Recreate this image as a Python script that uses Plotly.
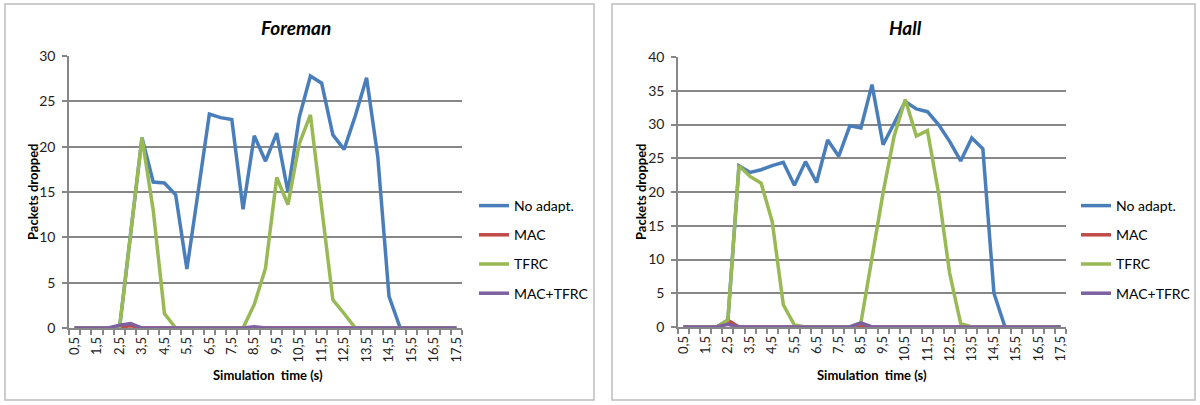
import plotly.graph_objects as go

# Categories: simulation time every 0.5 s
times = [0.5, 1.0, 1.5, 2.0, 2.5, 3.0, 3.5, 4.0, 4.5, 5.0, 5.5, 6.0, 6.5, 7.0, 7.5,
         8.0, 8.5, 9.0, 9.5, 10.0, 10.5, 11.0, 11.5, 12.0, 12.5, 13.0, 13.5, 14.0,
         14.5, 15.0, 15.5, 16.0, 16.5, 17.0, 17.5]
tick_vals = [0.5, 1.5, 2.5, 3.5, 4.5, 5.5, 6.5, 7.5, 8.5, 9.5, 10.5, 11.5, 12.5,
             13.5, 14.5, 15.5, 16.5, 17.5]
tick_text = ["0,5", "1,5", "2,5", "3,5", "4,5", "5,5", "6,5", "7,5", "8,5", "9,5",
             "10,5", "11,5", "12,5", "13,5", "14,5", "15,5", "16,5", "17,5"]
minor_vals = [0.25, 0.75, 1.25, 1.75, 2.25, 2.75, 3.25, 3.75, 4.25, 4.75, 5.25, 5.75,
              6.25, 6.75, 7.25, 7.75, 8.25, 8.75, 9.25, 9.75, 10.25, 10.75, 11.25,
              11.75, 12.25, 12.75, 13.25, 13.75, 14.25, 14.75, 15.25, 15.75, 16.25,
              16.75, 17.25, 17.75]

series_names = ["No adapt.", "MAC", "TFRC", "MAC+TFRC"]
colors = ["#4A7EBB", "#BE4B48", "#98B954", "#7D60A0"]

# Foreman
foreman_noadapt = [0, 0, 0, 0, 0, 10.5, 21.0, 16.1, 16.0, 14.7, 6.5, 15.0, 23.6, 23.2,
                   23.0, 13.1, 21.2, 18.4, 21.5, 15.0, 23.2, 27.8, 27.0, 21.3, 19.7,
                   23.4, 27.6, 18.9, 3.5, 0, 0, 0, 0, 0, 0]
foreman_mac = [0, 0, 0, 0, 0.1, 0.25, 0, 0, 0, 0, 0, 0, 0, 0, 0, 0, 0.05, 0, 0, 0, 0,
               0, 0, 0, 0, 0, 0, 0, 0, 0, 0, 0, 0, 0, 0]
foreman_tfrc = [0, 0, 0, 0, 0, 10.5, 21.0, 13.0, 1.6, 0, 0, 0, 0, 0, 0, 0, 2.6, 6.6,
                16.6, 13.6, 20.3, 23.5, 13.3, 3.1, 1.6, 0, 0, 0, 0, 0, 0, 0, 0, 0, 0]
foreman_mactfrc = [0, 0, 0, 0, 0.3, 0.5, 0, 0, 0, 0, 0, 0, 0, 0, 0, 0, 0.15, 0, 0, 0,
                   0, 0, 0, 0, 0, 0, 0, 0, 0, 0, 0, 0, 0, 0, 0]

# Hall
hall_noadapt = [0, 0, 0, 0, 1.0, 23.9, 22.9, 23.3, 23.9, 24.4, 21.0, 24.5, 21.4, 27.7,
                25.3, 29.8, 29.5, 35.9, 27.0, 30.2, 33.4, 32.3, 31.9, 30.0, 27.5, 24.6,
                28.0, 26.4, 5.0, 0, 0, 0, 0, 0, 0]
hall_mac = [0, 0, 0, 0, 1.0, 0, 0, 0, 0, 0, 0, 0, 0, 0, 0, 0, 0.3, 0, 0, 0, 0, 0, 0, 0,
            0, 0, 0, 0, 0, 0, 0, 0, 0, 0, 0]
hall_tfrc = [0, 0, 0, 0, 1.0, 23.9, 22.3, 21.3, 15.6, 3.3, 0.3, 0, 0, 0, 0, 0, 0.6,
             10.2, 19.9, 28.3, 33.7, 28.3, 29.1, 19.9, 8.0, 0.5, 0, 0, 0, 0, 0, 0, 0,
             0, 0]
hall_mactfrc = [0, 0, 0, 0, 0.4, 0, 0, 0, 0, 0, 0, 0, 0, 0, 0, 0, 0.6, 0, 0, 0, 0, 0,
                0, 0, 0, 0, 0, 0, 0, 0, 0, 0, 0, 0, 0]

panels = [
    ("Foreman", [foreman_noadapt, foreman_mac, foreman_tfrc, foreman_mactfrc], 30),
    ("Hall", [hall_noadapt, hall_mac, hall_tfrc, hall_mactfrc], 40),
]

W, H = 1200, 405
FONT = "Lato"
GRID = "#878787"

fig = go.Figure()

geom = [
    dict(pl=69, pr=462, pt=56, pb=328, box=(5, 594, 4, 400), legx=474,
         ytitle=33, title_x=296, xtitle_x=268),
    dict(pl=678, pr=1066, pt=57, pb=327, box=(612, 1195, 4, 400), legx=1076,
         ytitle=641, title_x=905, xtitle_x=872),
]

for i, (title, data, ymax) in enumerate(panels):
    g = geom[i]
    ax = "" if i == 0 else str(i + 1)
    leg = "legend" if i == 0 else "legend2"
    for name, vals, col in zip(series_names, data, colors):
        fig.add_trace(go.Scatter(
            x=times, y=vals, name=name, mode="lines",
            line=dict(color=col, width=3.5),
            xaxis="x" + ax, yaxis="y" + ax, legend=leg,
            legendgroup=f"{title}-{name}", hoverinfo="skip",
        ))
    fig.layout["xaxis" + ax] = dict(
        domain=[g["pl"] / W, g["pr"] / W], anchor="y" + ax, automargin=False,
        range=[0.25, 17.75], tickmode="array", tickvals=tick_vals, ticktext=tick_text,
        tickangle=-90, ticks="", showgrid=False, zeroline=False,
        showline=True, linecolor=GRID, linewidth=1.5, ticklabelstandoff=2,
        tickfont=dict(family=FONT, size=13, color="#222"),
        minor=dict(tickmode="array", tickvals=minor_vals, ticks="outside",
                   ticklen=5, tickcolor=GRID, tickwidth=1.5, showgrid=False),
        fixedrange=True,
    )
    fig.layout["yaxis" + ax] = dict(
        domain=[1 - g["pb"] / H, 1 - g["pt"] / H], anchor="x" + ax, automargin=False,
        range=[0, ymax], dtick=5, tick0=0, ticks="outside", ticklen=5,
        tickcolor=GRID, tickwidth=1.5, showgrid=True, gridcolor=GRID, gridwidth=1.5,
        zeroline=False, showline=True, linecolor=GRID, linewidth=1.5,
        ticklabelstandoff=4,
        tickfont=dict(family=FONT, size=14, color="#222"), fixedrange=True,
    )
    bx0, bx1, by0, by1 = g["box"]
    fig.add_shape(type="rect", xref="paper", yref="paper",
                  x0=bx0 / W, x1=bx1 / W, y0=1 - by1 / H, y1=1 - by0 / H,
                  line=dict(color="#BDBDBD", width=1.5), fillcolor="rgba(0,0,0,0)")
    fig.add_annotation(x=g["title_x"] / W, y=1 - 28 / H, xref="paper", yref="paper",
                       xanchor="center", yanchor="middle",
                       text=f"<b><i>{title}</i></b>", showarrow=False,
                       font=dict(family=FONT, size=19, color="#000"))
    fig.add_annotation(x=g["xtitle_x"] / W, y=1 - 375 / H, xref="paper", yref="paper",
                       xanchor="center", yanchor="middle",
                       text="<b>Simulation  time (s)</b>", showarrow=False,
                       font=dict(family=FONT, size=13, color="#000"))
    fig.add_annotation(x=g["ytitle"] / W, y=1 - 192 / H, xref="paper", yref="paper",
                       xanchor="center", yanchor="middle",
                       text="<b>Packets dropped</b>", showarrow=False, textangle=-90,
                       font=dict(family=FONT, size=13, color="#000"))
    fig.layout[leg] = dict(
        x=g["legx"] / W, y=1 - 190 / H, xanchor="left", yanchor="top",
        font=dict(family=FONT, size=14, color="#000"), bgcolor="rgba(0,0,0,0)",
        tracegroupgap=8, itemclick=False, itemdoubleclick=False,
    )

fig.update_layout(
    width=W, height=H, autosize=False,
    margin=dict(l=0, r=0, t=0, b=0),
    paper_bgcolor="white", plot_bgcolor="white",
    showlegend=True,
)

fig.write_html("out.html", config={"displayModeBar": False},
               post_script="document.body.style.margin='0';document.body.style.padding='0';")
